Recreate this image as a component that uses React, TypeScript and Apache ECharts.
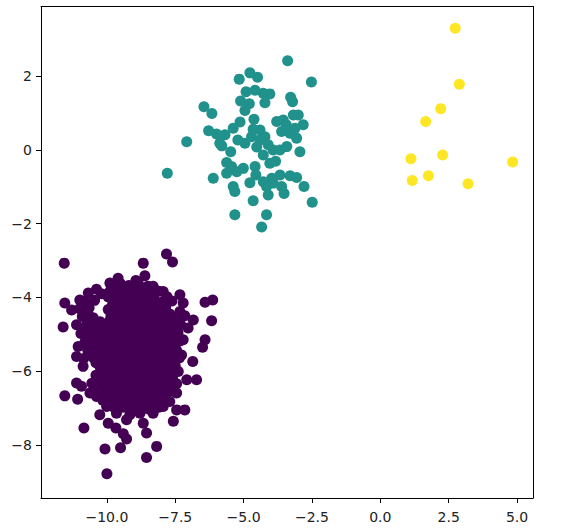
import React, { useEffect, useRef } from "react";
import * as echarts from "echarts";

const xTicks = [-10, -7.5, -5, -2.5, 0, 2.5, 5];
const yTicks = [-8, -6, -4, -2, 0, 2];

const yellowPoints: [number, number][] = [
  [2.74, 3.3], [2.89, 1.78], [2.21, 1.12], [1.66, 0.77], [1.12, -0.24],
  [2.28, -0.14], [4.84, -0.33], [1.17, -0.83], [1.76, -0.7], [3.21, -0.92],
];

const tealPoints: [number, number][] = [
  [-3.39, 2.42], [-2.52, 1.84], [-5.16, 1.92], [-4.77, 2.09], [-4.49, 1.97],
  [-4.91, 1.58], [-4.28, 1.54], [-4.04, 1.52], [-4.22, 1.28], [-3.28, 1.43],
  [-5.11, 1.33], [-4.79, 1.25], [-4.95, 1.07], [-6.45, 1.17], [-6.16, 0.99],
  [-4.62, 0.83], [-5.13, 0.76], [-5.38, 0.59], [-6.28, 0.52], [-5.99, 0.43],
  [-5.68, 0.41], [-7.08, 0.22], [-5.87, 0.18], [-5.8, 0.11], [-5.47, -0.05],
  [-4.95, 0.18], [-4.71, 0.36], [-4.4, 0.54], [-4.65, 0.56], [-4.4, 0.27],
  [-4.22, 0.36], [-4.1, 0.14], [-3.79, 0.77], [-3.55, 0.81], [-3.18, 0.95],
  [-3.0, 0.95], [-2.82, 0.68], [-3.12, 0.59], [-3.3, 0.45], [-3.06, 0.32],
  [-3.61, 0.5], [-3.42, 0.09], [-3.67, 0.0], [-2.94, -0.05], [-3.92, 0.0],
  [-4.28, -0.14], [-4.04, -0.36], [-5.62, -0.34], [-5.44, -0.45], [-5.01, -0.5],
  [-4.58, -0.45], [-5.62, -0.63], [-5.25, -0.59], [-6.11, -0.77], [-7.79, -0.63],
  [-4.77, -0.89], [-4.55, -0.68], [-5.38, -0.99], [-5.32, -1.13], [-4.16, -0.99],
  [-3.92, -0.9], [-4.1, -1.22], [-3.67, -0.68], [-3.3, -0.7], [-3.06, -0.75],
  [-3.61, -0.99], [-2.79, -0.99], [-2.49, -1.42], [-4.65, -1.38], [-5.32, -1.76],
  [-4.16, -1.76], [-4.34, -2.09], [-3.97, -0.77], [-4.28, -0.86], [-4.52, 0.08],
  [-3.44, 0.68], [-5.21, 0.27], [-3.83, -0.31], [-4.58, 1.62], [-3.52, -1.18],
  [-3.21, 1.31],
];

const purpleOutliers: [number, number][] = [
  [-11.56, -3.07], [-8.67, -3.07], [-7.82, -2.82], [-7.6, -3.04], [-11.54, -4.15],
  [-11.6, -4.8], [-6.41, -4.13], [-6.13, -4.07], [-6.17, -4.63], [-6.41, -5.15],
  [-6.5, -5.35], [-6.86, -5.74], [-6.72, -6.23], [-11.54, -6.67], [-11.07, -6.76],
  [-11.11, -6.32], [-10.93, -6.41], [-7.15, -7.05], [-7.45, -7.05], [-7.57, -7.36],
  [-10.26, -7.18], [-10.84, -7.54], [-9.67, -7.54], [-9.4, -7.7], [-9.28, -7.84],
  [-10.07, -8.11], [-9.5, -8.08], [-8.55, -7.68], [-8.18, -8.04], [-8.55, -8.34],
  [-10.0, -8.78],
];

const purpleEdge: [number, number][] = [
  [-8.61, -3.41], [-8.94, -3.54], [-9.59, -3.48], [-9.89, -3.61], [-10.38, -3.78],
  [-10.68, -3.88], [-10.99, -4.07], [-11.29, -4.34], [-11.11, -4.74], [-11.05, -5.33],
  [-11.11, -5.6], [-10.87, -5.87], [-8.31, -3.7], [-7.94, -3.84], [-7.33, -3.93],
  [-7.21, -4.15], [-7.33, -4.38], [-6.84, -4.61], [-7.03, -4.83], [-7.21, -5.15],
  [-7.27, -5.56], [-7.39, -6.01], [-7.08, -6.23], [-7.45, -6.59], [-7.94, -6.96],
  [-8.31, -7.14], [-8.79, -7.14], [-9.16, -7.18], [-9.65, -7.14], [-10.01, -6.96],
  [-10.38, -6.69], [-10.62, -6.59], [-9.28, -7.32], [-8.67, -7.41], [-9.95, -7.41],
];

const purpleCore: [number, number][] = [
  [-9.85, -3.66], [-9.5, -3.63], [-9.2, -3.68], [-8.85, -3.62], [-8.5, -3.7],
  [-10.2, -3.9], [-9.9, -3.85], [-9.6, -3.88], [-9.3, -3.84], [-9.0, -3.9],
  [-8.7, -3.86], [-8.4, -3.89], [-8.1, -3.83],
  [-10.8, -4.12], [-10.45, -4.08], [-9.75, -4.1], [-9.45, -4.06], [-9.15, -4.13],
  [-8.85, -4.09], [-8.55, -4.11], [-8.25, -4.07], [-7.95, -4.12], [-7.62, -4.1],
  [-11.0, -4.31], [-10.65, -4.28], [-9.95, -4.33], [-9.65, -4.29], [-9.3, -4.32],
  [-9.0, -4.27], [-8.7, -4.31], [-8.4, -4.3], [-8.1, -4.34], [-7.85, -4.28],
  [-10.9, -4.52], [-10.5, -4.55], [-9.85, -4.5], [-9.55, -4.54], [-9.2, -4.51],
  [-8.9, -4.55], [-8.55, -4.5], [-8.25, -4.53], [-7.95, -4.56], [-7.4, -4.55], [-7.15, -4.5],
  [-10.75, -4.76], [-10.4, -4.73], [-10.05, -4.77], [-9.7, -4.74], [-9.4, -4.78],
  [-9.1, -4.72], [-8.8, -4.76], [-8.45, -4.75], [-8.15, -4.79], [-7.85, -4.73],
  [-7.55, -4.77], [-7.3, -4.74],
  [-10.95, -4.98], [-10.6, -4.95], [-10.25, -4.99], [-9.9, -4.96], [-9.6, -5.0],
  [-9.3, -4.95], [-8.95, -4.98], [-8.65, -4.96], [-8.35, -5.01], [-8.05, -4.97],
  [-7.7, -4.99], [-7.4, -4.96],
  [-10.8, -5.21], [-10.45, -5.18], [-10.1, -5.22], [-9.8, -5.19], [-9.45, -5.23],
  [-9.15, -5.18], [-8.85, -5.21], [-8.5, -5.2], [-8.2, -5.24], [-7.9, -5.18],
  [-7.6, -5.22], [-7.35, -5.19],
  [-10.7, -5.43], [-10.3, -5.4], [-9.95, -5.44], [-9.65, -5.41], [-9.35, -5.45],
  [-9.05, -5.4], [-8.7, -5.43], [-8.4, -5.42], [-8.1, -5.46], [-7.75, -5.41], [-7.45, -5.44],
  [-10.85, -5.66], [-10.5, -5.63], [-10.15, -5.67], [-9.85, -5.64], [-9.5, -5.68],
  [-9.2, -5.62], [-8.9, -5.66], [-8.6, -5.65], [-8.3, -5.69], [-7.95, -5.63],
  [-7.6, -5.67], [-7.35, -5.64],
  [-10.25, -5.88], [-9.95, -5.85], [-9.65, -5.89], [-9.3, -5.86], [-9.0, -5.9],
  [-8.7, -5.85], [-8.4, -5.88], [-8.1, -5.87], [-7.8, -5.91], [-7.5, -5.86],
  [-10.4, -6.11], [-10.05, -6.08], [-9.75, -6.12], [-9.45, -6.09], [-9.15, -6.13],
  [-8.85, -6.08], [-8.5, -6.11], [-8.2, -6.1], [-7.9, -6.14], [-7.6, -6.09],
  [-10.55, -6.33], [-10.2, -6.3], [-9.9, -6.34], [-9.6, -6.31], [-9.3, -6.35],
  [-9.0, -6.3], [-8.65, -6.33], [-8.35, -6.32], [-8.05, -6.36], [-7.75, -6.31], [-7.45, -6.34],
  [-10.35, -6.56], [-10.0, -6.53], [-9.7, -6.57], [-9.4, -6.54], [-9.1, -6.58],
  [-8.8, -6.53], [-8.5, -6.56], [-8.2, -6.55], [-7.9, -6.59], [-7.6, -6.54],
  [-10.15, -6.79], [-9.85, -6.76], [-9.55, -6.8], [-9.25, -6.77], [-8.95, -6.81],
  [-8.6, -6.76], [-8.3, -6.79], [-8.0, -6.78], [-7.7, -6.82],
  [-9.7, -7.01], [-9.4, -6.98], [-9.05, -7.02], [-8.75, -6.99], [-8.45, -7.03], [-8.1, -6.98],
];

const purpleFill: [number, number][] = [
  [-9.68, -3.77], [-9.35, -3.74], [-9.03, -3.78], [-8.68, -3.75], [-8.3, -3.98],
  [-9.95, -3.99], [-9.6, -3.97], [-9.28, -4.0], [-8.98, -3.96], [-8.62, -4.0], [-7.8, -3.98],
  [-9.8, -4.21], [-9.47, -4.19], [-9.16, -4.22], [-8.85, -4.2], [-8.55, -4.23], [-8.25, -4.19], [-7.7, -4.45],
  [-10.7, -4.42], [-9.7, -4.41], [-9.38, -4.44], [-9.05, -4.4], [-8.72, -4.43], [-8.4, -4.42], [-8.1, -4.45],
  [-10.6, -4.64], [-10.25, -4.66], [-9.9, -4.63], [-9.55, -4.67], [-9.25, -4.62], [-8.95, -4.66],
  [-8.62, -4.64], [-8.3, -4.68], [-8.0, -4.63], [-7.7, -4.66], [-7.45, -4.65],
  [-10.8, -4.87], [-10.45, -4.85], [-10.1, -4.88], [-9.78, -4.86], [-9.45, -4.89], [-9.15, -4.84],
  [-8.8, -4.87], [-8.5, -4.86], [-8.2, -4.9], [-7.9, -4.85], [-7.55, -4.88],
  [-10.6, -5.09], [-10.28, -5.07], [-9.95, -5.1], [-9.62, -5.08], [-9.3, -5.11], [-9.0, -5.06],
  [-8.68, -5.09], [-8.35, -5.08], [-8.05, -5.12], [-7.75, -5.07], [-7.5, -5.1],
  [-10.5, -5.31], [-10.15, -5.29], [-9.8, -5.32], [-9.5, -5.3], [-9.2, -5.33], [-8.88, -5.28],
  [-8.55, -5.31], [-8.25, -5.3], [-7.95, -5.34], [-7.6, -5.29],
  [-10.65, -5.54], [-10.3, -5.52], [-10.0, -5.55], [-9.68, -5.53], [-9.35, -5.56], [-9.05, -5.51],
  [-8.75, -5.54], [-8.45, -5.53], [-8.15, -5.57], [-7.85, -5.52], [-7.55, -5.55],
  [-10.4, -5.77], [-10.05, -5.75], [-9.75, -5.78], [-9.45, -5.76], [-9.15, -5.79], [-8.85, -5.74],
  [-8.55, -5.77], [-8.25, -5.76], [-7.95, -5.8], [-7.65, -5.75],
  [-10.2, -6.0], [-9.88, -5.98], [-9.58, -6.01], [-9.28, -5.99], [-8.98, -6.02], [-8.68, -5.97],
  [-8.35, -6.0], [-8.05, -5.99], [-7.75, -6.03], [-7.48, -5.98],
  [-10.35, -6.22], [-10.05, -6.2], [-9.75, -6.23], [-9.45, -6.21], [-9.15, -6.24], [-8.82, -6.19],
  [-8.5, -6.22], [-8.2, -6.21], [-7.9, -6.25], [-7.6, -6.2],
  [-10.2, -6.45], [-9.85, -6.43], [-9.55, -6.46], [-9.25, -6.44], [-8.95, -6.47], [-8.65, -6.42],
  [-8.35, -6.45], [-8.05, -6.44], [-7.75, -6.48],
  [-10.0, -6.67], [-9.7, -6.65], [-9.4, -6.68], [-9.1, -6.66], [-8.8, -6.69], [-8.45, -6.64],
  [-8.15, -6.67], [-7.85, -6.66],
  [-9.55, -6.9], [-9.25, -6.88], [-8.9, -6.91], [-8.6, -6.89], [-8.3, -6.92],
];

const purplePoints: [number, number][] = [
  ...purpleOutliers,
  ...purpleEdge,
  ...purpleCore,
  ...purpleFill,
];

const fmtMinus = (s: string) => s.replace("-", "\u2212");

export default function App() {
  const ref = useRef<HTMLDivElement>(null);
  useEffect(() => {
    document.body.style.margin = "0";
    if (!ref.current) return;
    const chart = echarts.init(ref.current, null, { renderer: "svg" });
    const labelStyle = {
      color: "#222",
      fontSize: 14,
      fontFamily: "DejaVu Sans",
    };
    const xMin = -12.41;
    const xMax = 5.585;
    const yMin = -9.44;
    const yMax = 3.89;
    const frameLine = { show: true, onZero: false, lineStyle: { color: "#000", width: 1 } };
    chart.setOption({
      animation: false,
      backgroundColor: "#fff",
      grid: {
        left: 41,
        top: 6.5,
        right: 43,
        bottom: 31,
        show: false,
      },
      xAxis: [
        {
          type: "value",
          position: "bottom",
          min: xMin,
          max: xMax,
          splitLine: { show: false },
          axisLine: frameLine,
          axisTick: {
            show: true,
            length: 5,
            lineStyle: { color: "#000", width: 1 },
            customValues: xTicks,
          },
          axisLabel: {
            ...labelStyle,
            margin: 12,
            customValues: xTicks,
            formatter: (v: number) => fmtMinus(v.toFixed(1)),
          },
        },
        {
          type: "value",
          position: "top",
          min: xMin,
          max: xMax,
          splitLine: { show: false },
          axisLine: frameLine,
          axisTick: { show: false },
          axisLabel: { show: false },
        },
      ],
      yAxis: [
        {
          type: "value",
          position: "left",
          min: yMin,
          max: yMax,
          splitLine: { show: false },
          axisLine: frameLine,
          axisTick: {
            show: true,
            length: 5,
            lineStyle: { color: "#000", width: 1 },
            customValues: yTicks,
          },
          axisLabel: {
            ...labelStyle,
            margin: 9,
            customValues: yTicks,
            formatter: (v: number) => fmtMinus(String(v)),
          },
        },
        {
          type: "value",
          position: "right",
          min: yMin,
          max: yMax,
          splitLine: { show: false },
          axisLine: frameLine,
          axisTick: { show: false },
          axisLabel: { show: false },
        },
      ],
      series: [
        {
          type: "scatter",
          data: purplePoints,
          symbolSize: 11,
          itemStyle: { color: "#440154", opacity: 1 },
        },
        {
          type: "scatter",
          data: tealPoints,
          symbolSize: 11,
          itemStyle: { color: "#21918c", opacity: 1 },
        },
        {
          type: "scatter",
          data: yellowPoints,
          symbolSize: 11,
          itemStyle: { color: "#fde725", opacity: 1 },
        },
      ],
    });
    return () => chart.dispose();
  }, []);
  return <div ref={ref} style={{ width: 576, height: 529 }} />;
}
